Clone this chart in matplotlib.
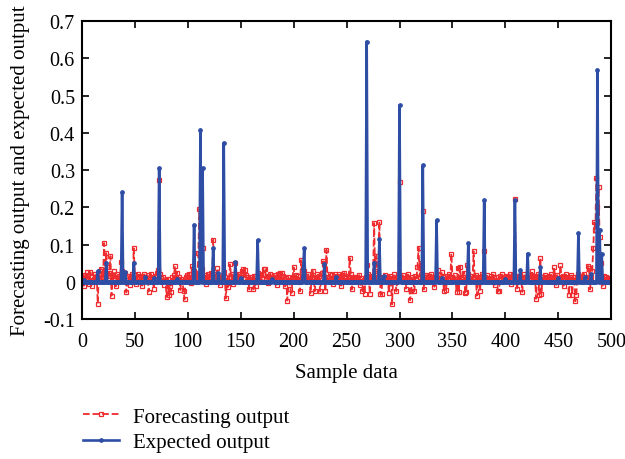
import numpy as np
import matplotlib
matplotlib.use("Agg")
import matplotlib.pyplot as plt

plt.rcParams['font.family'] = ['Liberation Serif', 'DejaVu Serif']
plt.rcParams['font.size'] = 14

# forecasting output, sample 0..499 (rows of 20)
forecast = [
    -0.004, 0.012, -0.010, 0.018, 0.006, 0.026, 0.010, -0.006, 0.026, 0.014, -0.010, 0.008, 0.020, 0.004, 0.016, -0.058, 0.022, 0.030, 0.035, 0.012,
    0.010, 0.104, 0.018, 0.077, 0.040, 0.006, 0.024, 0.069, -0.037, 0.015, 0.028, 0.004, -0.012, 0.020, 0.008, 0.016, 0.002, 0.053, 0.030, 0.020,
    0.010, 0.024, -0.028, 0.006, 0.015, -0.008, 0.012, 0.020, 0.004, 0.090, 0.018, -0.006, 0.010, 0.022, 0.014, 0.002, 0.016, -0.010, 0.008, 0.020,
    0.012, 0.006, 0.018, -0.026, 0.010, 0.022, 0.014, 0.004, -0.019, 0.016, 0.008, 0.024, 0.032, 0.273, 0.020, 0.010, 0.002, 0.014, -0.008, 0.006,
    -0.040, 0.008, -0.035, -0.010, -0.027, 0.012, 0.004, 0.018, 0.043, 0.010, 0.025, 0.006, 0.014, -0.022, 0.008, 0.002, -0.024, -0.047, 0.012, 0.018,
    0.006, 0.020, 0.012, -0.004, 0.044, 0.016, 0.030, 0.008, 0.022, 0.004, 0.077, 0.196, 0.050, 0.035, 0.092, 0.010, 0.018, -0.006, 0.012, 0.020,
    0.014, 0.008, 0.024, 0.002, 0.113, 0.016, 0.006, 0.020, 0.036, 0.010, -0.008, 0.014, 0.004, 0.018, 0.026, 0.012, -0.044, 0.006, -0.014, 0.010,
    0.047, 0.012, 0.020, -0.006, 0.010, 0.051, 0.016, 0.004, 0.022, 0.008, 0.014, 0.030, 0.035, 0.010, 0.033, 0.018, 0.002, 0.012, -0.020, 0.006,
    0.014, 0.008, -0.020, 0.016, -0.010, 0.006, 0.024, 0.012, 0.002, 0.018, 0.010, 0.020, 0.035, 0.034, 0.008, 0.016, -0.004, 0.012, 0.022, 0.006,
    0.014, 0.004, 0.018, 0.010, -0.008, 0.020, 0.012, 0.025, 0.006, 0.025, 0.016, 0.008, -0.012, 0.010, -0.050, 0.014, 0.004, -0.018, -0.030, 0.012,
    0.039, 0.010, 0.018, 0.004, 0.016, 0.008, -0.025, 0.058, 0.022, 0.012, 0.030, 0.006, 0.016, 0.002, 0.020, 0.010, -0.030, 0.014, 0.030, 0.008,
    -0.025, 0.012, 0.020, 0.006, 0.016, -0.025, 0.010, 0.024, 0.057, 0.050, -0.025, 0.086, 0.014, 0.004, 0.020, 0.010, 0.018, -0.006, 0.012, 0.022,
    0.008, 0.016, 0.004, 0.020, 0.012, -0.010, 0.018, 0.006, 0.024, 0.010, 0.002, 0.016, 0.012, 0.064, 0.020, -0.020, 0.008, 0.014, 0.004, 0.010,
    0.012, 0.006, 0.018, -0.008, 0.010, -0.025, 0.004, -0.032, 0.014, 0.045, 0.020, 0.008, -0.033, 0.016, 0.002, 0.012, 0.158, 0.024, 0.070, 0.030,
    0.010, 0.162, -0.033, -0.033, 0.014, 0.006, 0.018, 0.002, 0.012, 0.008, -0.030, 0.016, 0.004, -0.060, 0.010, 0.020, 0.006, -0.025, 0.012, 0.014,
    0.268, 0.012, 0.006, 0.018, 0.010, 0.002, -0.018, 0.014, 0.020, 0.008, -0.049, -0.025, 0.012, 0.004, -0.025, 0.016, 0.010, 0.040, 0.092, 0.014,
    0.050, 0.008, 0.190, -0.020, 0.012, 0.018, 0.004, 0.010, 0.016, 0.006, 0.020, 0.012, 0.002, -0.013, 0.014, 0.008, 0.032, 0.018, 0.010, 0.004,
    0.026, 0.012, -0.025, 0.008, -0.022, 0.016, 0.004, 0.020, 0.010, 0.076, 0.014, 0.006, 0.018, 0.002, -0.028, 0.038, -0.028, 0.040, 0.012, 0.008,
    0.014, 0.025, -0.030, -0.028, 0.046, 0.020, 0.010, 0.004, 0.016, 0.008, 0.082, 0.012, 0.018, -0.037, 0.006, 0.014, -0.025, 0.010, 0.020, 0.004,
    0.083, 0.012, 0.006, 0.018, 0.010, 0.002, 0.016, 0.008, 0.022, 0.012, -0.008, 0.014, 0.004, -0.025, -0.024, 0.016, 0.010, 0.020, 0.006, 0.012,
    0.008, 0.016, 0.004, 0.012, 0.020, -0.006, 0.010, 0.018, 0.014, 0.222, 0.012, -0.020, 0.006, 0.016, 0.010, 0.004, -0.027, 0.014, 0.020, 0.008,
    0.012, 0.018, 0.006, 0.010, 0.004, 0.030, 0.014, 0.008, 0.016, -0.045, 0.010, 0.020, -0.034, 0.064, -0.033, 0.012, 0.006, 0.018, 0.004, 0.014,
    0.010, 0.016, 0.002, 0.020, 0.012, 0.006, 0.040, 0.014, -0.008, 0.018, 0.010, 0.004, 0.045, 0.012, 0.016, -0.010, 0.008, 0.020, 0.012, 0.006,
    -0.035, 0.012, 0.018, -0.034, 0.006, 0.014, -0.052, -0.034, 0.010, 0.020, 0.004, 0.016, 0.008, 0.012, 0.022, 0.006, 0.014, 0.010, 0.043, 0.038,
    -0.020, 0.012, 0.030, 0.090, 0.160, 0.140, 0.280, 0.200, 0.255, 0.120, 0.050, 0.010, -0.010, 0.016, 0.006, 0.012, 0.004, 0.010, 0.008, 0.006,
]

# expected output: zero except at these samples
exp_idx = [2, 15, 23, 38, 41, 49, 60, 68, 73, 90, 106, 112, 114, 124, 129, 134, 145, 150, 166, 180,
           209, 210, 229, 240, 269, 276, 281, 285, 300, 322, 335, 340, 365, 380, 400, 409, 414, 421,
           433, 450, 469, 475, 481, 487, 489, 491]
exp_val = [0.005, 0.028, 0.052, 0.241, 0.026, 0.052, 0.012, 0.010, 0.305, 0.008, 0.153, 0.408, 0.305, 0.090, 0.024, 0.373, 0.053, 0.010, 0.112, 0.008,
           0.035, 0.090, 0.047, 0.012, 0.645, 0.052, 0.114, 0.015, 0.474, 0.313, 0.165, 0.010, 0.104, 0.219, 0.008, 0.219, 0.032, 0.076,
           0.040, 0.010, 0.131, 0.012, 0.020, 0.569, 0.140, 0.075]

n = len(forecast)
x = np.arange(n)
expected = np.zeros(n)
expected[exp_idx] = exp_val

red = '#ee2b2e'
blue = '#2e4ea6'

fig = plt.figure(figsize=(6.25, 4.6), dpi=100)
ax = fig.add_axes([0.131, 0.304, 0.847, 0.648])

l1, = ax.plot(x, forecast, '--', color=red, lw=1.3, marker='s', ms=3.5,
              mfc='none', mec=red, mew=0.9, label='Forecasting output')
l2, = ax.plot(x, expected, '-', color=blue, lw=1.9, marker='o', ms=2.4,
              mfc=blue, mec=blue, label='Expected output')

ax.set_xlim(0, 500)
ax.set_ylim(-0.1, 0.7)
ax.set_xticks(np.arange(0, 501, 50))
ax.set_yticks(np.arange(-0.1, 0.71, 0.1))
ax.set_yticklabels(['-0.1', '0', '0.1', '0.2', '0.3', '0.4', '0.5', '0.6', '0.7'])
ax.tick_params(direction='in', top=True, right=True, length=5, width=1.2, labelsize=14.5)
ax.tick_params(axis='x', pad=9)
ax.tick_params(axis='y', pad=5)
for s in ax.spines.values():
    s.set_linewidth(1.5)

ax.set_xlabel('Sample data', fontsize=15, labelpad=9)
ax.set_ylabel('Forecasting output and expected output', fontsize=15, labelpad=9)

fig.legend(handles=[l1, l2], loc='upper left', bbox_to_anchor=(0.133, 0.113),
           frameon=False, fontsize=15, handlelength=1.7, handletextpad=0.7,
           labelspacing=0.3, borderpad=0, borderaxespad=0, numpoints=1)

fig.savefig('out.png', dpi=100)
